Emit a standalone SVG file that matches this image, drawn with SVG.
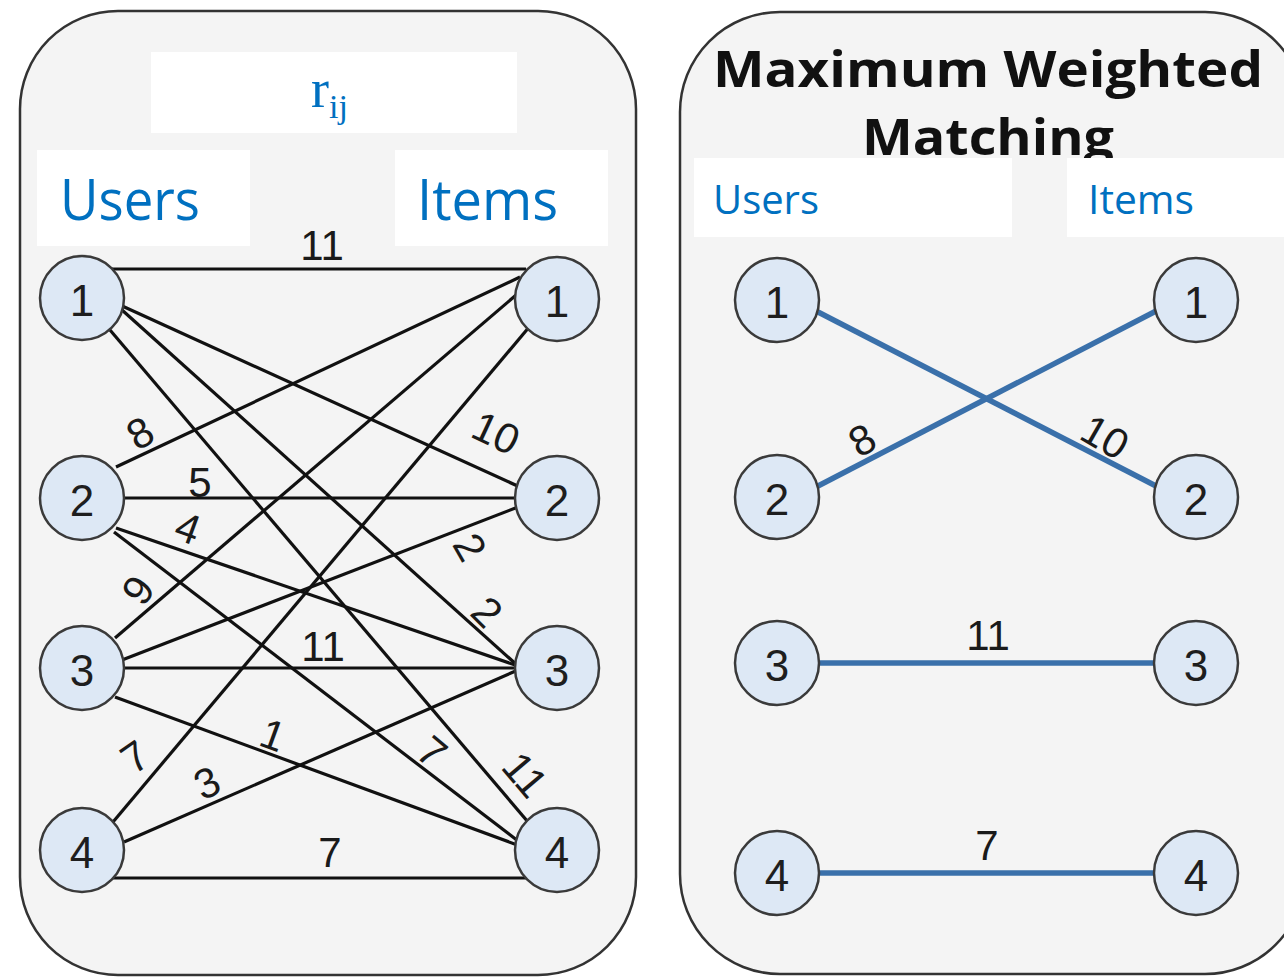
<svg xmlns="http://www.w3.org/2000/svg" width="1284" height="979" viewBox="0 0 1284 979">
<style>
.panel{fill:#f4f4f4;stroke:#333;stroke-width:2.5}
.wbox{fill:#fff}
.blue{fill:#0070c0;font-family:"Open Sans","Noto Sans","Liberation Sans",sans-serif}
.node circle{fill:#dde8f5;stroke:#3a3a3a;stroke-width:2.5}
.node text{font-family:"Liberation Sans",Arial,sans-serif;font-size:44px;fill:#1e1e1e;text-anchor:middle;dominant-baseline:central}
.e{stroke:#111;stroke-width:3.2;fill:none}
.m{stroke:#3a70aa;stroke-width:5.5;fill:none}
.lbl{font-family:"Liberation Sans",Arial,sans-serif;font-size:42px;fill:#1a1a1a;text-anchor:middle;dominant-baseline:central}
.title{font-family:"Open Sans","Liberation Sans",sans-serif;font-weight:bold;font-size:50px;fill:#111;text-anchor:middle}
</style>
<rect width="1284" height="979" fill="#fff"/>
<g id="left-panel">
<rect class="panel" x="20" y="11" width="616" height="964" rx="98" ry="98"/>
<rect class="wbox" x="151" y="52" width="366" height="81"/>
<text x="311" y="107" font-family="Liberation Serif,serif" font-size="54" fill="#0070c0">r<tspan font-size="34" dy="11">ij</tspan></text>
<rect class="wbox" x="37" y="150" width="213" height="96"/>
<text class="blue" x="60" y="220" font-size="56" textLength="140" lengthAdjust="spacingAndGlyphs">Users</text>
<rect class="wbox" x="395" y="150" width="213" height="96"/>
<text class="blue" x="417" y="220" font-size="56" textLength="141" lengthAdjust="spacingAndGlyphs">Items</text>
</g>
<g id="right-panel">
<rect class="panel" x="680" y="12" width="625" height="962" rx="100" ry="100"/>
<text class="title" x="988" y="87" textLength="550" lengthAdjust="spacingAndGlyphs">Maximum Weighted</text>
<text class="title" x="988" y="155" textLength="252" lengthAdjust="spacingAndGlyphs">Matching</text>
<rect class="wbox" x="694" y="158" width="318" height="79"/>
<text class="blue" x="713" y="214" font-size="40" textLength="106" lengthAdjust="spacingAndGlyphs">Users</text>
<rect class="wbox" x="1067" y="158" width="217" height="79"/>
<text class="blue" x="1088" y="214" font-size="40" textLength="106" lengthAdjust="spacingAndGlyphs">Items</text>
</g>
<g id="connectors">
<line class="e" x1="112" y1="269" x2="526" y2="269"/>
<line class="e" x1="120" y1="305" x2="522" y2="488"/>
<line class="e" x1="122" y1="310" x2="518" y2="666"/>
<line class="e" x1="110" y1="330" x2="528" y2="822"/>
<line class="e" x1="116" y1="467" x2="520" y2="277"/>
<line class="e" x1="124" y1="498" x2="516" y2="498"/>
<line class="e" x1="116" y1="528" x2="518" y2="666"/>
<line class="e" x1="114" y1="532" x2="522" y2="844"/>
<line class="e" x1="115" y1="638" x2="522" y2="290"/>
<line class="e" x1="122" y1="660" x2="518" y2="507"/>
<line class="e" x1="124" y1="668" x2="518" y2="668"/>
<line class="e" x1="115" y1="697" x2="520" y2="846"/>
<line class="e" x1="113" y1="822" x2="530" y2="326"/>
<line class="e" x1="124" y1="842" x2="518" y2="670"/>
<line class="e" x1="112" y1="878" x2="530" y2="878"/>
<line class="m" x1="818" y1="312" x2="1156" y2="486"/>
<line class="m" x1="818" y1="486" x2="1158" y2="310"/>
<line class="m" x1="820" y1="663" x2="1154" y2="663"/>
<line class="m" x1="820" y1="873" x2="1154" y2="873"/>
<text class="lbl" x="322" y="245">11</text>
<text class="lbl" transform="rotate(-30 140 433)" x="140" y="433">8</text>
<text class="lbl" transform="rotate(25 496 433)" x="496" y="433">10</text>
<text class="lbl" x="200" y="482">5</text>
<text class="lbl" transform="rotate(20 188 528)" x="188" y="528">4</text>
<text class="lbl" transform="rotate(60 470 547)" x="470" y="547">2</text>
<text class="lbl" transform="rotate(-55 138 590)" x="138" y="590">9</text>
<text class="lbl" transform="rotate(45 487 612)" x="487" y="612">2</text>
<text class="lbl" x="323" y="646">11</text>
<text class="lbl" transform="rotate(20 273 735)" x="273" y="735">1</text>
<text class="lbl" transform="rotate(40 432 752)" x="432" y="752">7</text>
<text class="lbl" transform="rotate(-35 135 757)" x="135" y="757">7</text>
<text class="lbl" transform="rotate(-25 207 783)" x="207" y="783">3</text>
<text class="lbl" transform="rotate(50 525 775)" x="525" y="775">11</text>
<text class="lbl" x="330" y="852">7</text>
<text class="lbl" transform="rotate(-30 862 440)" x="862" y="440">8</text>
<text class="lbl" transform="rotate(30 1105 437)" x="1105" y="437">10</text>
<text class="lbl" x="988" y="635">11</text>
<text class="lbl" x="987" y="845">7</text>
</g>
<g id="L-u1" class="node"><circle cx="82" cy="298" r="42"/><text x="82" y="300">1</text></g>
<g id="L-u2" class="node"><circle cx="82" cy="498" r="42"/><text x="82" y="500">2</text></g>
<g id="L-u3" class="node"><circle cx="82" cy="668" r="42"/><text x="82" y="670">3</text></g>
<g id="L-u4" class="node"><circle cx="82" cy="850" r="42"/><text x="82" y="852">4</text></g>
<g id="L-i1" class="node"><circle cx="557" cy="299" r="42"/><text x="557" y="301">1</text></g>
<g id="L-i2" class="node"><circle cx="557" cy="498" r="42"/><text x="557" y="500">2</text></g>
<g id="L-i3" class="node"><circle cx="557" cy="668" r="42"/><text x="557" y="670">3</text></g>
<g id="L-i4" class="node"><circle cx="557" cy="850" r="42"/><text x="557" y="852">4</text></g>
<g id="R-u1" class="node"><circle cx="777" cy="300" r="42"/><text x="777" y="302">1</text></g>
<g id="R-u2" class="node"><circle cx="777" cy="497" r="42"/><text x="777" y="499">2</text></g>
<g id="R-u3" class="node"><circle cx="777" cy="663" r="42"/><text x="777" y="665">3</text></g>
<g id="R-u4" class="node"><circle cx="777" cy="873" r="42"/><text x="777" y="875">4</text></g>
<g id="R-i1" class="node"><circle cx="1196" cy="300" r="42"/><text x="1196" y="302">1</text></g>
<g id="R-i2" class="node"><circle cx="1196" cy="497" r="42"/><text x="1196" y="499">2</text></g>
<g id="R-i3" class="node"><circle cx="1196" cy="663" r="42"/><text x="1196" y="665">3</text></g>
<g id="R-i4" class="node"><circle cx="1196" cy="873" r="42"/><text x="1196" y="875">4</text></g>
</svg>
